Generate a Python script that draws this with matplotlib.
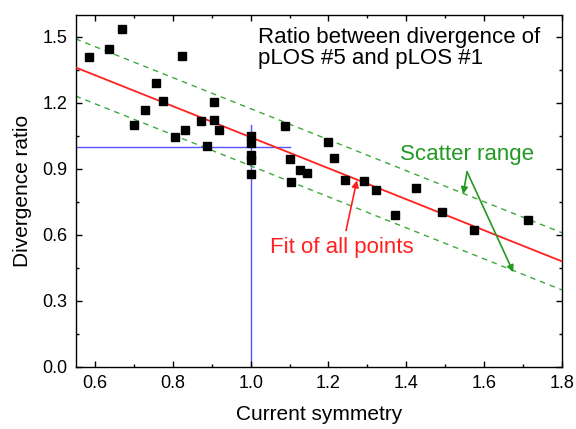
import matplotlib
matplotlib.use("Agg")
import matplotlib.pyplot as plt
from matplotlib.ticker import MultipleLocator, FormatStrFormatter

plt.rcParams['font.family'] = ['Liberation Sans', 'DejaVu Sans']

# Données
symmetry = [0.585, 0.636, 0.669, 0.701, 0.729, 0.756, 0.774, 0.805, 0.823, 0.832,
            0.872, 0.887, 0.907, 0.907, 0.919,
            1.0, 1.0, 1.0, 1.0, 1.0,
            1.089, 1.101, 1.103, 1.127, 1.146, 1.200, 1.215, 1.243, 1.292, 1.322,
            1.370, 1.425, 1.491, 1.573, 1.712]
ratio = [1.407, 1.445, 1.538, 1.101, 1.169, 1.290, 1.210, 1.047, 1.414, 1.077,
         1.119, 1.002, 1.204, 1.124, 1.076,
         1.048, 1.018, 0.962, 0.940, 0.878,
         1.094, 0.947, 0.840, 0.895, 0.883, 1.024, 0.950, 0.849, 0.845, 0.804,
         0.690, 0.813, 0.705, 0.623, 0.668]

# Droite d'ajustement et bande de dispersion
fit_intercept = 1.750
fit_slope = -0.706
scatter_half = 0.13
x_range = [0.55, 1.8]

# Repères bleus
ref_x = 1.0
ref_y = 1.0
ref_end = 1.1

fit_line = [fit_intercept + fit_slope * x for x in x_range]
upper_line = [y + scatter_half for y in fit_line]
lower_line = [y - scatter_half for y in fit_line]

fig = plt.figure(figsize=(5.76, 4.29), dpi=100)
ax = fig.add_axes([0.1311, 0.1452, 0.8446, 0.8198])

blue = '#5555ff'
ax.plot([ref_x, ref_x], [0, ref_end], color=blue, lw=1.0, zorder=1)
ax.plot([x_range[0], ref_end], [ref_y, ref_y], color=blue, lw=1.0, zorder=1)

ax.plot(x_range, upper_line, color='#3fa83f', lw=1.0, ls=(0, (4, 3.5)), zorder=2)
ax.plot(x_range, lower_line, color='#3fa83f', lw=1.0, ls=(0, (4, 3.5)), zorder=2)
ax.plot(x_range, fit_line, color='#ff2020', lw=1.3, zorder=3)

ax.plot(symmetry, ratio, 's', color='black', ms=5.5, zorder=4)

# Textes
ax.text(1.019, 1.452, "Ratio between divergence of\npLOS #5 and pLOS #1",
        fontsize=16, ha='left', va='center', linespacing=1.0)
ax.text(1.233, 0.543, "Fit of all points", fontsize=16, color='#ff2020',
        ha='center', va='center')
ax.text(1.555, 0.966, "Scatter range", fontsize=16, color='#229922',
        ha='center', va='center')

# Flèches
ax.annotate("", xy=(1.273, 0.848), xytext=(1.245, 0.619),
            arrowprops=dict(arrowstyle='-|>', color='#ff2020', lw=1.2,
                            mutation_scale=10, shrinkA=0, shrinkB=0))
ax.annotate("", xy=(1.546, 0.785), xytext=(1.556, 0.887),
            arrowprops=dict(arrowstyle='-|>', color='#229922', lw=1.2,
                            mutation_scale=10, shrinkA=0, shrinkB=0))
ax.annotate("", xy=(1.675, 0.430), xytext=(1.556, 0.887),
            arrowprops=dict(arrowstyle='-|>', color='#229922', lw=1.2,
                            mutation_scale=10, shrinkA=0, shrinkB=0))

ax.set_xlim(0.55, 1.8)
ax.set_ylim(0.0, 1.6)
ax.xaxis.set_major_locator(MultipleLocator(0.2))
ax.xaxis.set_minor_locator(MultipleLocator(0.1))
ax.yaxis.set_major_locator(MultipleLocator(0.3))
ax.yaxis.set_minor_locator(MultipleLocator(0.15))
ax.xaxis.set_major_formatter(FormatStrFormatter('%.1f'))
ax.yaxis.set_major_formatter(FormatStrFormatter('%.1f'))
ax.tick_params(which='both', direction='in', top=True, right=True, width=1.0)
ax.tick_params(which='major', length=4.5, labelsize=13, pad=6)
ax.tick_params(which='minor', length=2.5)
for s in ax.spines.values():
    s.set_linewidth(1.0)

ax.set_xlabel("Current symmetry", fontsize=15, labelpad=9)
ax.set_ylabel("Divergence ratio", fontsize=15, labelpad=7)

fig.savefig("out.png", dpi=100)
